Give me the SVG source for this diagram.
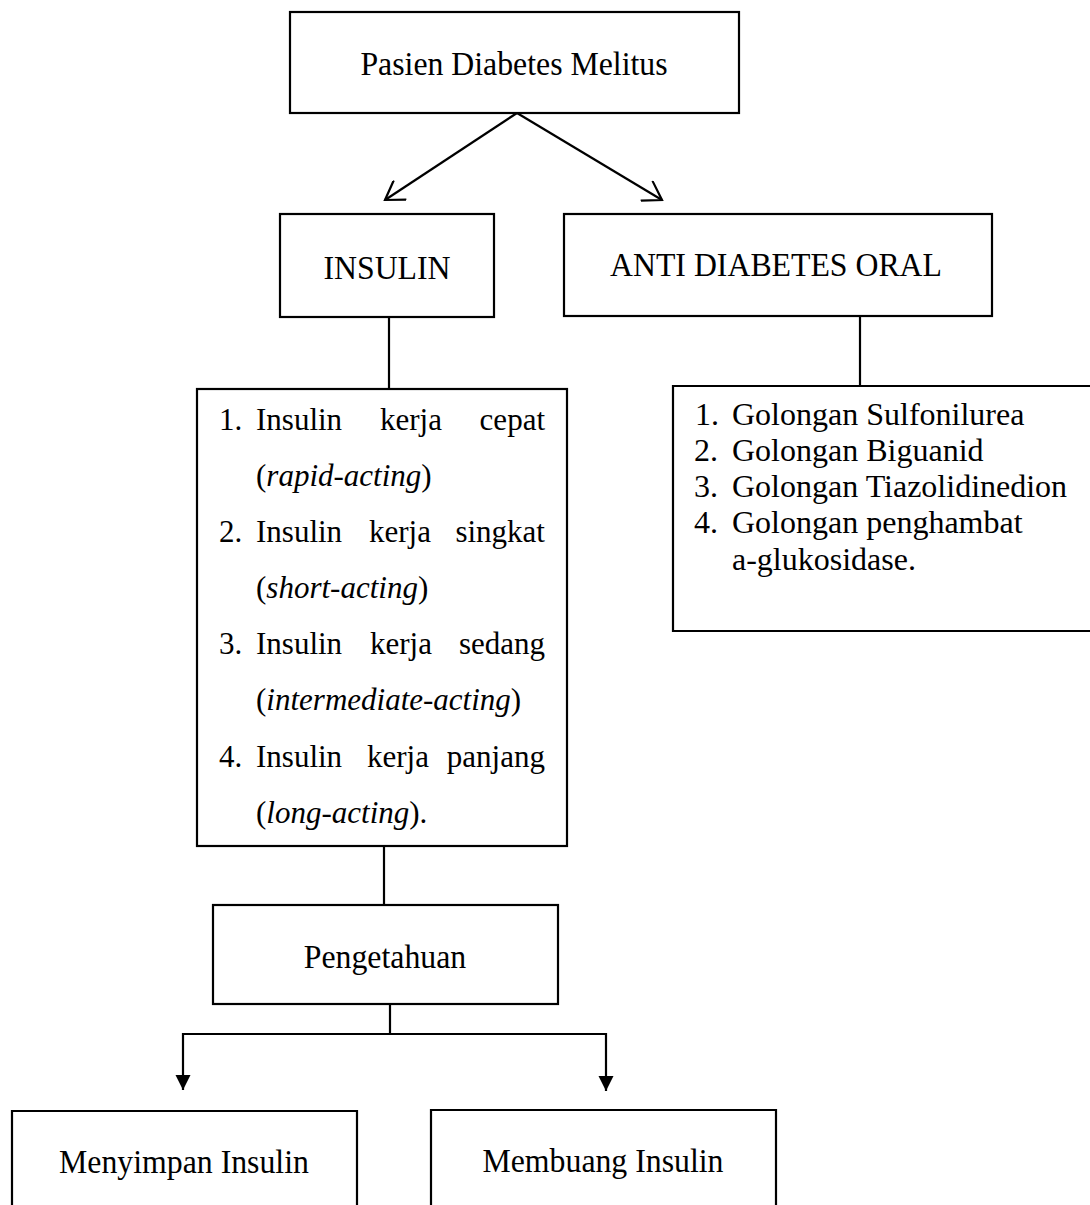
<svg xmlns="http://www.w3.org/2000/svg" width="1090" height="1205" viewBox="0 0 1090 1205">
<defs>
<style>
.box{fill:none;stroke:#000;stroke-width:2.2}
.ln{fill:none;stroke:#000;stroke-width:2.2}
text{font-family:"Liberation Serif","Times New Roman",serif;font-size:32px;fill:#000}
.lab{font-size:31.8px;text-anchor:middle}
.c{text-anchor:middle}
.e{text-anchor:end}
.li{font-size:31px}
.it{font-style:italic}
</style>
<marker id="open" viewBox="-22 -12 24 24" refX="0" refY="0" markerWidth="24" markerHeight="24" markerUnits="userSpaceOnUse" orient="auto">
<path d="M-18,-11.5 L0,0 L-18,11.5" fill="none" stroke="#000" stroke-width="2.2"/>
</marker>
<marker id="solid" viewBox="-15 -8 16 16" refX="0" refY="0" markerWidth="16" markerHeight="16" markerUnits="userSpaceOnUse" orient="auto">
<path d="M-15,-7.5 L0,0 L-15,7.5 Z" fill="#000"/>
</marker>
</defs>
<rect width="1090" height="1205" fill="#fff"/>

<g id="connectors">
<line class="ln" x1="517" y1="113" x2="385" y2="200" marker-end="url(#open)"/>
<line class="ln" x1="517" y1="113" x2="662" y2="200" marker-end="url(#open)"/>
<line class="ln" x1="389" y1="317" x2="389" y2="389"/>
<line class="ln" x1="860" y1="316" x2="860" y2="386"/>
<line class="ln" x1="384" y1="846" x2="384" y2="905"/>
<polyline class="ln" points="390,1004 390,1034 183,1034 183,1090" marker-end="url(#solid)"/>
<polyline class="ln" points="390,1034 606,1034 606,1091" marker-end="url(#solid)"/>
</g>

<g id="pasien">
<rect class="box" x="290" y="12" width="449" height="101"/>
<text class="lab" transform="translate(514,75) scale(1,1.08)">Pasien Diabetes Melitus</text>
</g>

<g id="insulin">
<rect class="box" x="280" y="214" width="214" height="103"/>
<text class="lab" transform="translate(387,279) scale(1,1.08)">INSULIN</text>
</g>

<g id="ado">
<rect class="box" x="564" y="214" width="428" height="102"/>
<text class="lab" transform="translate(776,276) scale(1,1.08)">ANTI DIABETES ORAL</text>
</g>

<g id="insulin-list">
<rect class="box" x="197" y="389" width="370" height="457"/>
<text class="li" x="219" y="430">1.</text>
<text class="li" x="256" y="430">Insulin</text>
<text class="li c" x="411" y="430">kerja</text>
<text class="li e" x="545" y="430">cepat</text>
<text class="li" x="256" y="486">(<tspan class="it">rapid-acting</tspan>)</text>
<text class="li" x="219" y="542">2.</text>
<text class="li" x="256" y="542">Insulin</text>
<text class="li c" x="400" y="542">kerja</text>
<text class="li e" x="545" y="542">singkat</text>
<text class="li" x="256" y="598">(<tspan class="it">short-acting</tspan>)</text>
<text class="li" x="219" y="654">3.</text>
<text class="li" x="256" y="654">Insulin</text>
<text class="li c" x="401" y="654">kerja</text>
<text class="li e" x="545" y="654">sedang</text>
<text class="li" x="256" y="710">(<tspan class="it">intermediate-acting</tspan>)</text>
<text class="li" x="219" y="767">4.</text>
<text class="li" x="256" y="767">Insulin</text>
<text class="li c" x="398" y="767">kerja</text>
<text class="li e" x="545" y="767">panjang</text>
<text class="li" x="256" y="823">(<tspan class="it">long-acting</tspan>).</text>
</g>

<g id="ado-list">
<path class="box" d="M1092,386 L673,386 L673,631 L1092,631"/>
<text x="695" y="425">1.</text>
<text x="732" y="425">Golongan Sulfonilurea</text>
<text x="694" y="461">2.</text>
<text x="732" y="461">Golongan Biguanid</text>
<text x="694" y="497">3.</text>
<text x="732" y="497">Golongan Tiazolidinedion</text>
<text x="694" y="533">4.</text>
<text x="732" y="533">Golongan penghambat</text>
<text x="732" y="570">a-glukosidase.</text>
</g>

<g id="pengetahuan">
<rect class="box" x="213" y="905" width="345" height="99"/>
<text class="lab" transform="translate(385,968) scale(1,1.08)">Pengetahuan</text>
</g>

<g id="menyimpan">
<path class="box" d="M12,1215 L12,1111 L357,1111 L357,1215"/>
<text class="lab" transform="translate(184,1173) scale(1,1.08)">Menyimpan Insulin</text>
</g>

<g id="membuang">
<path class="box" d="M431,1215 L431,1110 L776,1110 L776,1215"/>
<text class="lab" transform="translate(603,1172) scale(1,1.08)">Membuang Insulin</text>
</g>
</svg>
